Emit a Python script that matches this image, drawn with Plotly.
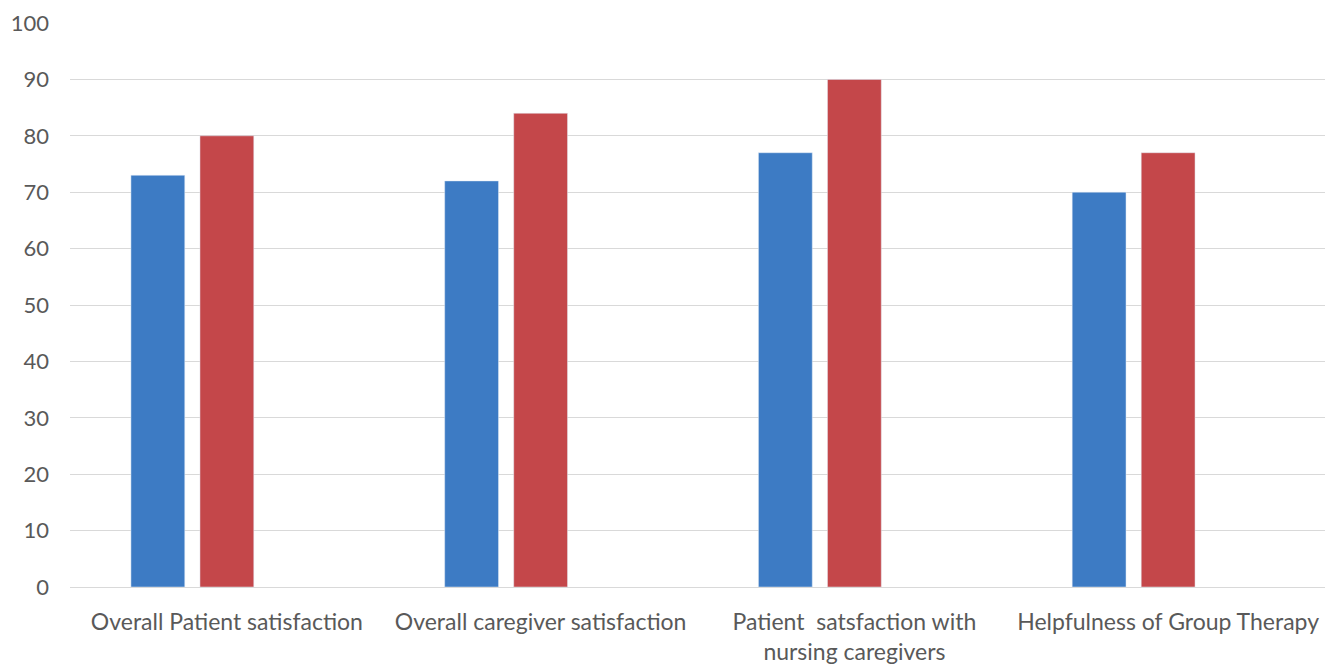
import plotly.graph_objects as go

categories = [
    "Overall Patient satisfaction",
    "Overall caregiver satisfaction",
    "Patient \u00a0satsfaction with<br>nursing caregivers",
    "Helpfulness of Group Therapy",
]
series_blue = [73, 72, 77, 70]
series_red = [80, 84, 90, 77]
series_empty = [None, None, None, None]
y_ticks = list(range(0, 101, 10))

fig = go.Figure()
fig.add_trace(go.Bar(x=categories, y=series_blue, marker_color="#3D7BC4", name="Series 1"))
fig.add_trace(go.Bar(x=categories, y=series_red, marker_color="#C4474A", name="Series 2"))
fig.add_trace(go.Bar(x=categories, y=series_empty, marker_color="#9BBB59", name="Series 3"))

fig.update_layout(
    width=1330,
    height=664,
    margin=dict(l=70, r=5, t=23, b=77),
    paper_bgcolor="white",
    plot_bgcolor="white",
    barmode="group",
    bargap=0.34,
    bargroupgap=0.22,
    showlegend=False,
    font=dict(family="Lato, Open Sans, sans-serif", size=22, color="#595959"),
)
fig.update_xaxes(
    automargin=False,
    showgrid=False,
    showline=True,
    linecolor="#d9d9d9",
    linewidth=1,
    ticks="",
    ticklabelstandoff=14,
    tickfont=dict(size=23, color="#595959"),
)
fig.update_yaxes(
    automargin=False,
    range=[0, 100],
    tickvals=y_ticks,
    showgrid=True,
    gridcolor="#d9d9d9",
    gridwidth=1,
    zeroline=False,
    showline=False,
    ticks="",
    ticklabelstandoff=20,
    tickfont=dict(size=22, color="#595959"),
)

fig.write_html("out.html")
